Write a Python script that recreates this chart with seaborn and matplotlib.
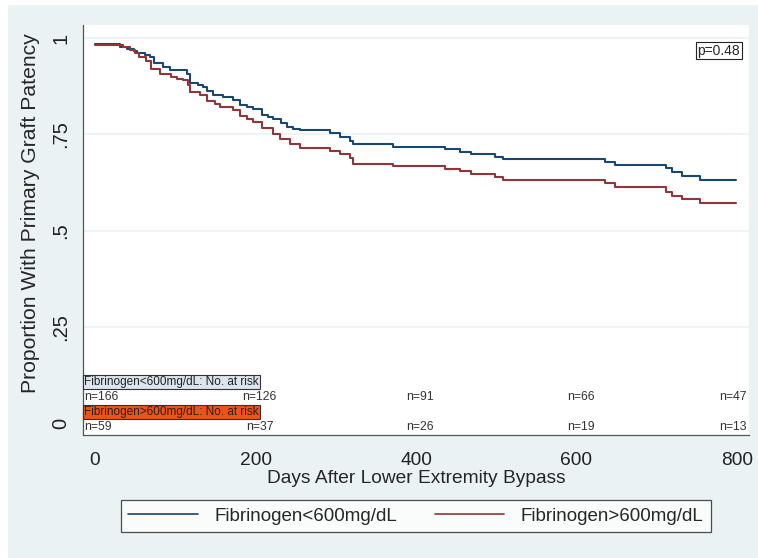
import pandas as pd
import seaborn as sns
import matplotlib.pyplot as plt
from matplotlib.patches import Rectangle
from matplotlib.lines import Line2D

# Kaplan-Meier step values
days_low = [0, 31, 40, 48, 52, 62, 68, 73, 85, 93, 114, 118, 128, 135, 139, 147, 160, 172, 181, 190,
            197, 208, 215, 222, 232, 239, 247, 255, 293, 305, 318, 322, 371, 436, 455, 469, 498, 509,
            636, 648, 712, 719, 731, 754, 799]
surv_low = [0.985, 0.978, 0.972, 0.966, 0.960, 0.955, 0.950, 0.936, 0.925, 0.917, 0.908, 0.884, 0.878,
            0.873, 0.862, 0.853, 0.846, 0.839, 0.827, 0.822, 0.816, 0.801, 0.796, 0.790, 0.780, 0.770,
            0.765, 0.760, 0.753, 0.744, 0.732, 0.725, 0.718, 0.711, 0.705, 0.698, 0.692, 0.685, 0.679,
            0.670, 0.662, 0.653, 0.642, 0.631, 0.631]

days_high = [0, 35, 44, 50, 55, 64, 70, 81, 95, 102, 110, 116, 118, 131, 139, 150, 156, 172, 181, 190,
             197, 208, 222, 231, 243, 255, 293, 305, 318, 322, 371, 436, 455, 469, 498, 509, 636, 648,
             712, 719, 731, 754, 799]
surv_high = [0.982, 0.977, 0.969, 0.960, 0.950, 0.940, 0.921, 0.908, 0.900, 0.895, 0.890, 0.878, 0.861,
             0.852, 0.836, 0.828, 0.822, 0.813, 0.797, 0.790, 0.783, 0.766, 0.752, 0.739, 0.726, 0.715,
             0.706, 0.700, 0.688, 0.673, 0.667, 0.661, 0.655, 0.647, 0.640, 0.631, 0.623, 0.612, 0.601,
             0.590, 0.582, 0.571, 0.571]

groups = ['Fibrinogen<600mg/dL', 'Fibrinogen>600mg/dL']
risk_days = [0, 200, 400, 600, 800]
risk_low = [166, 126, 91, 66, 47]
risk_high = [59, 37, 26, 19, 13]
p_text = 'p=0.48'

df = pd.concat([
    pd.DataFrame({'day': days_low, 'surv': surv_low, 'group': groups[0]}),
    pd.DataFrame({'day': days_high, 'surv': surv_high, 'group': groups[1]}),
])

sns.set_style('white')
plt.rcParams['font.family'] = ['Liberation Sans', 'DejaVu Sans']

colors = ['#1a476f', '#90353b']
bg = '#eaf2f3'

fig = plt.figure(figsize=(7.58, 5.58), dpi=100, facecolor='white')
fig.patches.append(Rectangle((8 / 758, 0), 1, 553 / 558, transform=fig.transFigure,
                             facecolor=bg, edgecolor='none', zorder=-10))
ax = fig.add_axes([83 / 758, 123 / 558, 666 / 758, 410 / 558])
ax.set_facecolor('white')

for g in [0.25, 0.5, 0.75, 1.0]:
    ax.axhline(g, color=bg, lw=1.2, zorder=0)

sns.lineplot(data=df, x='day', y='surv', hue='group', palette=colors, estimator=None,
             drawstyle='steps-post', linewidth=1.5, legend=False, ax=ax)

ax.set_xlim(-15, 815)
ax.set_ylim(-0.031, 1.034)
ax.set_xticks(risk_days)
ax.set_yticks([0, 0.25, 0.5, 0.75, 1])
ax.set_yticklabels(['0', '.25', '.5', '.75', '1'], rotation=90, va='center')
ax.tick_params(axis='both', direction='out', length=5, width=0.9, color='#444444',
               labelsize=13.8, colors='#222222')
ax.tick_params(axis='y', pad=4, labelsize=14.5)
ax.tick_params(axis='x', pad=7)
ax.set_xlabel('Days After Lower Extremity Bypass', fontsize=13.8, labelpad=1)
ax.set_ylabel('Proportion With Primary Graft Patency', fontsize=15.2)
ax.yaxis.set_label_coords(-0.065, 0.54)

for side in ['top', 'right']:
    ax.spines[side].set_visible(False)
for side in ['left', 'bottom']:
    ax.spines[side].set_color('#555555')
    ax.spines[side].set_linewidth(0.9)

# p-value box
ax.text(804, 0.967, p_text, ha='right', va='center', fontsize=10,
        bbox=dict(boxstyle='square,pad=0.1', facecolor='white', edgecolor='#222222', lw=0.8))

# number at risk table
box_cols = ['#dce5ee', '#f0501a']
rows = [(0.106, 0.068, risk_low), (0.028, -0.010, risk_high)]
for (ylab, yrow, vals), g, bc in zip(rows, groups, box_cols):
    ax.text(-14, ylab, g + ': No. at risk', ha='left', va='center', fontsize=8.5, color='#222222',
            bbox=dict(boxstyle='square,pad=0.1', facecolor=bc, edgecolor='#333333', lw=0.8))
    for i, (d, n) in enumerate(zip(risk_days, vals)):
        if i == 0:
            ax.text(-14, yrow, f'n={n}', ha='left', va='center', fontsize=8.8, color='#333333')
        elif i == len(vals) - 1:
            ax.text(812, yrow, f'n={n}', ha='right', va='center', fontsize=8.8, color='#333333')
        else:
            ax.text(d + 5, yrow, f'n={n}', ha='center', va='center', fontsize=8.8, color='#333333')

handles = [Line2D([], [], color=c, lw=1.2) for c in colors]
leg = fig.legend(handles, groups, loc='center', bbox_to_anchor=(416 / 758, 42 / 558), ncol=2,
                 fontsize=13.5, frameon=True, fancybox=False, handlelength=3.7, handletextpad=0.9,
                 columnspacing=2.0, borderpad=0.4)
leg.get_frame().set_edgecolor('#222222')
leg.get_frame().set_linewidth(0.9)

fig.savefig('out.png', dpi=100, facecolor=fig.get_facecolor())
